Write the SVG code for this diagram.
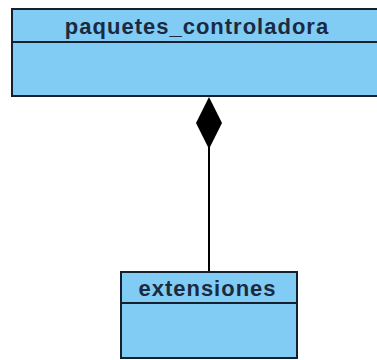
<svg xmlns="http://www.w3.org/2000/svg" width="377" height="360" viewBox="0 0 377 360">
<style>
.box{fill:#80CCF4;stroke:#15202e;stroke-width:2}
.div{stroke:#15202e;stroke-width:2}
.lbl{font-family:"Liberation Sans",Arial,sans-serif;font-weight:bold;font-size:22px;letter-spacing:1px;fill:#1b2a40;text-anchor:middle}
.conn{stroke:#000;stroke-width:2;fill:none}
</style>
<rect width="377" height="360" fill="#fff"/>
<g id="connectors">
<line class="conn" x1="209" y1="146" x2="209" y2="272"/>
<polygon points="209,97 222,123 209,149 196,123" fill="#000"/>
</g>
<g id="paquetes_controladora">
<rect class="box" x="12" y="9" width="370" height="87"/>
<line class="div" x1="12" y1="42" x2="382" y2="42"/>
<text class="lbl" x="197" y="34">paquetes_controladora</text>
</g>
<g id="extensiones">
<rect class="box" x="121" y="272" width="176" height="86"/>
<line class="div" x1="121" y1="303" x2="297" y2="303"/>
<text class="lbl" x="207.5" y="296">extensiones</text>
</g>
</svg>
